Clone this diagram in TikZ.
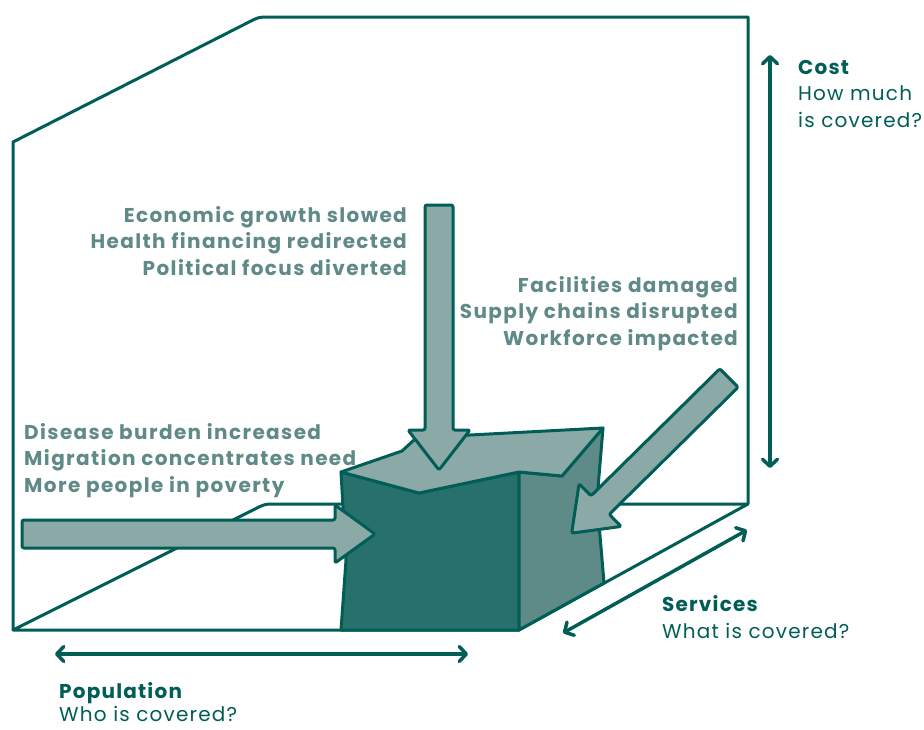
\documentclass[tikz,border=0pt]{standalone}
\usepackage{fontspec}
\setmainfont{Poppins}
\usetikzlibrary{arrows.meta}
\definecolor{dk}{HTML}{005E57}
\definecolor{frontc}{HTML}{28706C}
\definecolor{sidec}{HTML}{5E8B88}
\definecolor{lite}{HTML}{8BAAA7}
\definecolor{lbl}{HTML}{5F8A87}
\newcommand\fatarr[3]{\draw[fat] (0,-#2) -- (#1,-#2) -- (#1,-#3) -- ({#1+40},0) -- (#1,#3) -- (#1,#2) -- (0,#2) -- cycle;}
\begin{document}
\begin{tikzpicture}[x=1pt,y=-1pt,
  frame/.style={draw=dk,line width=3pt,line join=round,line cap=round},
  boxface/.style={draw=dk,line width=3pt,line join=round},
  fat/.style={draw=dk,fill=lite,line width=3pt,line join=round,rounded corners=2pt},
  axis/.style={draw=dk,line width=3.5pt,{Straight Barb[length=7pt,width=15pt,round]}-{Straight Barb[length=7pt,width=15pt,round]}},
  lab/.style={text=lbl,font=\bfseries\fontsize{20}{26}\selectfont\addfontfeature{LetterSpace=7},inner sep=0pt},
  axb/.style={text=dk,font=\bfseries\fontsize{20}{26}\selectfont\addfontfeature{LetterSpace=6},inner sep=0pt,anchor=base west},
  axr/.style={text=dk,font=\fontsize{20}{26}\selectfont\addfontfeature{LetterSpace=6},inner sep=0pt,anchor=base west}
]
\fill[white] (0,0) rectangle (924,729);
\useasboundingbox (0,0) rectangle (924,729);
% frame
\draw[frame] (748,504) -- (748,17) -- (269,17) .. controls (259,17) .. (250,21.5) -- (13,142) -- (13,630) -- (519,630) -- (748,504) -- (275,504) .. controls (265,504) .. (256,508.5) -- (13,630);
% box
\draw[boxface,fill=frontc] (341,472) -- (419,493) -- (519,472) -- (519,630) -- (341,630) -- (346,560) -- cycle;
\draw[boxface,fill=sidec] (519,472) -- (562,476) -- (603,428) -- (597,500) -- (604,583) -- (519,630) -- cycle;
\draw[boxface,fill=lite] (341,472) -- (402,451) -- (414,440) -- (470,435) -- (603,428) -- (562,476) -- (519,472) -- (419,493) -- cycle;
% fat arrows
\begin{scope}[shift={(439,205)},rotate=-90]\fatarr{225}{14}{31}\end{scope}
\begin{scope}[shift={(22,534)}]\fatarr{313}{14}{29}\end{scope}
\begin{scope}[shift={(729,378)},rotate=224.6]\fatarr{181}{13}{30}\end{scope}
% axes
\coordinate (costA) at (770,55); \coordinate (costB) at (770,468);
\coordinate (popA) at (55,654); \coordinate (popB) at (468,654);
\coordinate (serA) at (563,633); \coordinate (serB) at (747,530);
\draw[axis] (costA) -- (costB);
\draw[axis] (popA) -- (popB);
\draw[axis] (serA) -- (serB);
% labels
\node[lab,anchor=base east] (e1) at (407,222) {Economic growth slowed};
\node[lab,anchor=base east] (e2) at (407,248.5) {Health financing redirected};
\node[lab,anchor=base east] (e3) at (407,275) {Political focus diverted};
\node[lab,anchor=base east] (f1) at (738,292) {Facilities damaged};
\node[lab,anchor=base east] (f2) at (738,318.5) {Supply chains disrupted};
\node[lab,anchor=base east] (f3) at (738,345) {Workforce impacted};
\node[lab,anchor=base west] (d1) at (24,439) {Disease burden increased};
\node[lab,anchor=base west] (d2) at (24,465.5) {Migration concentrates need};
\node[lab,anchor=base west] (d3) at (24,492) {More people in poverty};
\node[axb] (c1) at (798,74) {Cost};
\node[axr] (c2) at (798,100.5) {How much};
\node[axr] (c3) at (798,127) {is covered?};
\node[axb] (s1) at (662,611) {Services};
\node[axr] (s2) at (662,638) {What is covered?};
\node[axb] (p1) at (59,698) {Population};
\node[axr,text depth=0pt] (p2) at (59,721) {Who is covered?};
\end{tikzpicture}
\end{document}
